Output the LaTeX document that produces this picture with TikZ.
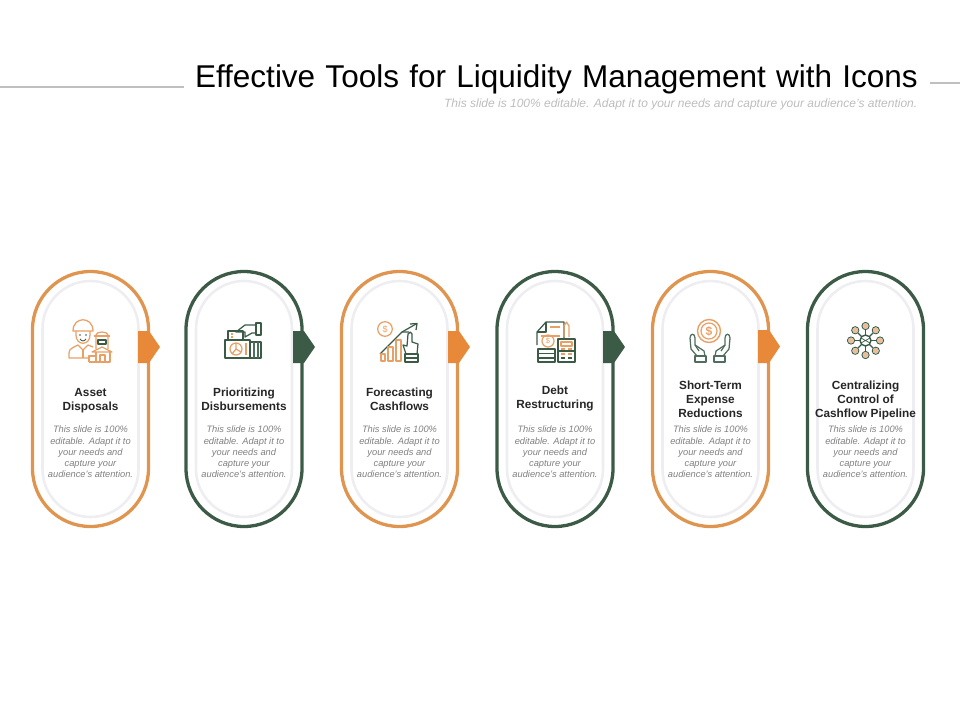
\documentclass[tikz,border=0pt]{standalone}
\usepackage{fontspec}
\usetikzlibrary{calc,shapes.misc}
\setmainfont{Liberation Sans}
\definecolor{orng}{HTML}{E8893A}
\definecolor{ringo}{HTML}{DF9550}
\definecolor{grn}{HTML}{3C5B46}
\definecolor{icono}{HTML}{E9A066}
\definecolor{icong}{HTML}{4F6F5E}
\definecolor{inner}{HTML}{EEEEF2}
\definecolor{rulegray}{HTML}{BFBFBF}
\definecolor{subgray}{HTML}{BDBDBD}
\definecolor{bodygray}{HTML}{808080}
\definecolor{labeldark}{HTML}{262626}
\tikzset{
  x=1pt,y=-1pt,
  ring/.style={rounded rectangle,rotate=90,draw=#1,line width=3.3pt,minimum height=116pt,minimum width=255pt,inner sep=0pt,outer sep=0pt},
  innerring/.style={rounded rectangle,rotate=90,draw=inner,line width=2.6pt,minimum height=96pt,minimum width=236pt,inner sep=0pt,outer sep=0pt},
  tab/.style={fill=#1,draw=none},
  labeltext/.style={font=\fontsize{11.8}{14}\selectfont\bfseries,text=labeldark,align=center,inner sep=0pt},
  bodytext/.style={font=\fontsize{9.3}{11.3}\selectfont\itshape,text=bodygray,align=center,inner sep=0pt},
  rulel/.style={draw=rulegray,line width=2pt},
  io/.style={draw=icono,line width=1.25pt,line join=round},
  ig/.style={draw=icong,line width=1.25pt,line join=round},
}
\newcommand{\bodycopy}{This slide is 100\%\\editable. Adapt it to\\your needs and\\capture your\\audience's attention.}
\begin{document}
\begin{tikzpicture}
\useasboundingbox (0,0) rectangle (960,720);
% title
\node[anchor=base east,inner sep=0pt,font=\fontsize{31.5}{36}\selectfont,text=black] (title) at (918,87) {Effective\hspace{1.5pt} Tools\hspace{1.5pt} for\hspace{1.5pt} Liquidity\hspace{1.5pt} Management\hspace{1.5pt} with\hspace{1.5pt} Icons};
\node[anchor=base east,inner sep=0pt,font=\fontsize{12}{14}\selectfont\itshape,text=subgray] (subtitle) at (917.5,107) {This slide is 100\% editable. Adapt it to your needs and capture your audience's attention.};
\coordinate (la) at (0,87); \coordinate (lb) at (184,87);
\coordinate (ra) at (930,83); \coordinate (rb) at (960,83);
\draw[rulel] (la) -- (lb);
\draw[rulel] (ra) -- (rb);
% pills
\node[innerring] (i1) at (90.5,399) {};
\node[innerring] (i2) at (244,399) {};
\node[innerring] (i3) at (399.5,399) {};
\node[innerring] (i4) at (555,399) {};
\node[innerring] (i5) at (710.5,399) {};
\node[innerring] (i6) at (865.5,399) {};
\node[ring=ringo] (p1) at (90.5,399) {};
\node[ring=grn] (p2) at (244,399) {};
\node[ring=ringo] (p3) at (399.5,399) {};
\node[ring=grn] (p4) at (555,399) {};
\node[ring=ringo] (p5) at (710.5,399) {};
\node[ring=grn] (p6) at (865.5,399) {};
% tabs
\fill[tab=orng] (138,331) -- (149,331) -- (160,347) -- (149,363) -- (138,363) -- cycle;
\fill[tab=grn] (293,331) -- (304,331) -- (315,347) -- (304,363) -- (293,363) -- cycle;
\fill[tab=orng] (448,331) -- (459,331) -- (470,347) -- (459,363) -- (448,363) -- cycle;
\fill[tab=grn] (603,331) -- (614,331) -- (625,347) -- (614,363) -- (603,363) -- cycle;
\fill[tab=orng] (758,330) -- (769,330) -- (780,346.500) -- (769,363) -- (758,363) -- cycle;
% labels
\node[labeltext] (l1) at (90.5,401) {Asset\\Disposals};
\node[labeltext] (l2) at (244,399) {Prioritizing\\Disbursements};
\node[labeltext] (l3) at (399.5,399) {Forecasting\\Cashflows};
\node[labeltext] (l4) at (555,398) {Debt\\Restructuring};
\node[labeltext] (l5) at (710.5,399) {Short-Term\\Expense\\Reductions};
\node[labeltext] (l6) at (865.5,400) {Centralizing\\Control of\\Cashflow Pipeline};
\node[bodytext] (b1) at (90.5,452) {\bodycopy};
\node[bodytext] (b2) at (244,452) {\bodycopy};
\node[bodytext] (b3) at (399.5,452) {\bodycopy};
\node[bodytext] (b4) at (555,452) {\bodycopy};
\node[bodytext] (b5) at (710.5,452) {\bodycopy};
\node[bodytext] (b6) at (865.5,452) {\bodycopy};
% icon 1: person and house
\draw[io] (73,331) .. controls (73,316) and (93,316) .. (93,331) -- cycle;
\draw[io] (76,331) -- (76,335) .. controls (76,346) and (90,346) .. (90,335) -- (90,331);
\fill[grn] (80,335) circle[radius=.8];
\fill[grn] (86,335) circle[radius=.8];
\draw[grn,line width=.9pt] (80,339) .. controls (82,341.500) and (84,341.500) .. (86,339);
\draw[io] (88,358) -- (69,358) -- (69,353) .. controls (69,349) and (72,348) .. (78,345) -- (83,350) -- (88,345) -- (93,347);
\draw[io] (83,350) -- (83,358);
\draw[io] (96,349) -- (96,335) .. controls (96,331) and (108,331) .. (108,335) -- (108,349);
\draw[io] (94,336) -- (110,336);
\draw[ig,draw=grn] (98,340) rectangle (106,344);
\draw[io] (92,352) -- (102,347) -- (112,352) -- cycle;
\draw[io] (96,352) -- (96,362) -- (110,362) -- (110,352);
\draw[io] (100,362) -- (100,355) -- (105,355) -- (105,362);
\draw[io] (89,362) -- (89,356) -- (96,356);
\draw[io] (89,362) -- (96,362);
% icon 2: hand, chart, folder
\draw[ig,draw=grn] (225,340) rectangle (250,358);
\draw[ig,draw=grn] (250,342) rectangle (261,358);
\draw[ig] (254,342) -- (254,358);
\draw[ig] (258,342) -- (258,358);
\draw[io] (236,349) circle[radius=6];
\draw[io] (236,343) -- (236,349) -- (241,352);
\draw[io] (236,349) -- (232,354);
\draw[io] (246,343) -- (246,355);
\draw[ig,draw=grn] (256,323) rectangle (261,335);
\draw[ig,draw=grn] (256,325) -- (245,325) -- (236,332) -- (245,332) -- (245,337) -- (252,333) -- (256,333);
\draw[ig,draw=grn] (228,340) -- (228,331) -- (243,331) -- (243,340);
\draw[io] (231,334) -- (233,334);
\draw[io] (231,337) -- (233,337);
% icon 3: chart and hand
\draw[io] (385,329) circle[radius=7.3];
\node[font=\fontsize{9}{9}\selectfont,text=icono,inner sep=0pt] (s3) at (385,329) {\$};
\draw[ig,draw=grn] (380,354) -- (402,332) -- (409,332);
\draw[ig,draw=grn] (402,332) -- (416,324);
\draw[ig,draw=grn] (410,324) -- (417,323.500) -- (416,330);
\draw[io] (381,361) rectangle (385,354);
\draw[io] (388,361) rectangle (393,347);
\draw[io] (396,361) rectangle (401,340);
\draw[ig,draw=grn] (406,354) -- (403,345) -- (407,346) -- (408,334) .. controls (409,331.500) and (412,331.500) .. (412,334) -- (412,342) -- (418,344) -- (417,354);
\draw[ig,draw=grn] (405,354) rectangle (418,362);
\draw[ig,draw=grn] (405,358) -- (418,358);
% icon 4: document, coins, calculator
\draw[ig,draw=grn] (537,345) -- (537,332) -- (546,322) -- (564,322) -- (564,338);
\draw[ig,draw=grn] (537,332) -- (546,332) -- (546,322);
\draw[io] (550,327) -- (560,327);
\draw[io] (541,336) -- (560,336);
\draw[io] (548,341) circle[radius=6];
\node[font=\fontsize{7.5}{8}\selectfont,text=icono,inner sep=0pt] (s4) at (548,341) {\$};
\draw[ig,draw=grn] (538,349) rectangle (555,353.500);
\draw[ig,draw=grn] (538,353.500) rectangle (555,358);
\draw[ig,draw=grn] (538,358) rectangle (555,362);
\draw[ig,draw=grn] (558,339) rectangle (575,362);
\draw[io] (561,342) rectangle (572,346);
\draw[io] (561,349) -- (565,349);
\draw[io] (568,349) -- (572,349);
\draw[io] (561,354) -- (565,354);
\draw[io] (568,354) -- (572,354);
\draw[ig,draw=grn] (561,358) -- (565,358);
\draw[ig,draw=grn] (568,358) -- (572,358);
\draw[ig,draw=grn] (558,351) -- (575,351);
\draw[io] (564,337) -- (564,326) -- (566.500,322) -- (569,326) -- (569,337);
% icon 5: hands and coin
\draw[io,line width=1.4pt] (709,331) circle[radius=11.5];
\draw[io] (709,331) circle[radius=8];
\node[font=\fontsize{12}{12}\selectfont\bfseries,text=icono,inner sep=0pt] (s5) at (709,331) {\$};
\draw[ig] (697,356) -- (691,349) -- (690,338) .. controls (690,333) and (695,333) .. (695,338) -- (695,345) -- (704,351) -- (705,356);
\draw[ig] (695,345) -- (699,351);
\draw[ig] (695,356) rectangle (706,362);
\draw[ig] (723,356) -- (729,349) -- (730,338) .. controls (730,333) and (725,333) .. (725,338) -- (725,345) -- (716,351) -- (715,356);
\draw[ig] (725,345) -- (721,351);
\draw[ig] (714,356) rectangle (725,362);
% icon 6: network
\foreach \a in {0,45,...,315}{
  \draw[ig,draw=grn] (865.5,340.500) -- ++(\a:10.5);
  \fill[icono!70] ($(865.5,340.500)+(\a:14.5)$) circle[radius=2.8];
  \draw[ig,draw=grn,line width=.9pt] ($(865.5,340.500)+(\a:14.5)$) circle[radius=3.6];
}
\draw[ig,draw=grn,fill=white,line width=1.4pt] (865.5,340.500) circle[radius=5.5];
\draw[ig,draw=grn,line width=.7pt] (861,338) -- (870,343) (870,338) -- (861,343);
\end{tikzpicture}
\end{document}
